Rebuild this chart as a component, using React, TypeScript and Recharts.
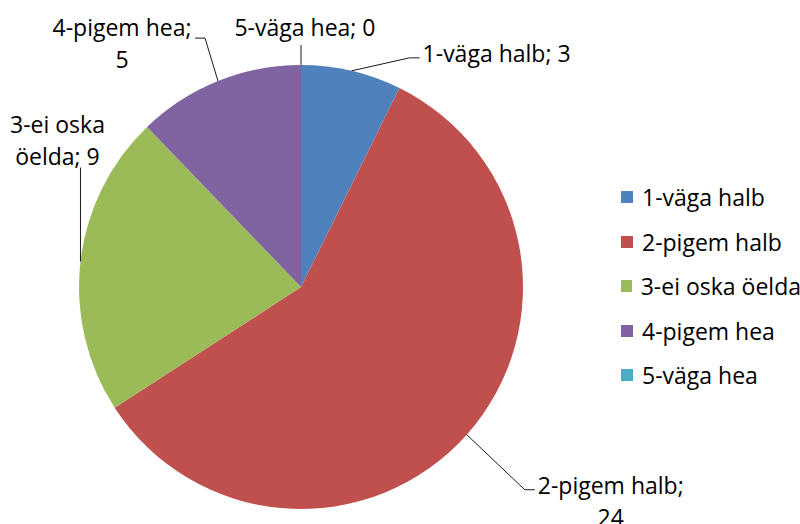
import { Cell, Legend, Pie, PieChart } from "recharts"

const categories = ["1-väga halb", "2-pigem halb", "3-ei oska öelda", "4-pigem hea", "5-väga hea"]
const counts = [3, 24, 9, 5, 0]
const colors = ["#4F81BD", "#C0504D", "#9BBB59", "#8064A2", "#4BACC6"]

// label text split into lines, as drawn in the picture
const labelLines = [
  ["1-väga halb; 3"],
  ["2-pigem halb;", "24"],
  ["3-ei oska", "öelda; 9"],
  ["4-pigem hea;", "5"],
  ["5-väga hea; 0"],
]

// leader line bends and text offsets, relative to the point on the pie edge
const labelLayout = [
  { path: [[58, -13], [68, -13]], text: [71, -18], anchor: "start" },
  { path: [[58, 55], [68, 55]], text: [144, 50], anchor: "middle" },
  { path: [[0, -94]], text: [-23, -138], anchor: "middle" },
  { path: [[-13, -43], [-23, -43]], text: [-96, -54], anchor: "middle" },
  { path: [[0, -20]], text: [4, -38], anchor: "middle" },
]

const data = categories.map((name, i) => ({ name, value: counts[i] }))

const FONT = "'Open Sans', sans-serif"
const RAD = Math.PI / 180

const renderLabel = (props: any) => {
  const { cx, cy, midAngle, outerRadius, index } = props
  const x0 = cx + Math.cos(-midAngle * RAD) * outerRadius
  const y0 = cy + Math.sin(-midAngle * RAD) * outerRadius
  const lay = labelLayout[index]
  const pts = [[x0, y0], ...lay.path.map(([dx, dy]) => [x0 + dx, y0 + dy])]
  const lines = labelLines[index]
  return (
    <g key={`lbl-${index}`}>
      <polyline points={pts.map((p) => p.join(",")).join(" ")} fill="none" stroke="#1a1a1a" strokeWidth={1} />
      {lines.map((t, j) => (
        <text
          key={j}
          x={x0 + lay.text[0]}
          y={y0 + lay.text[1] + j * 32}
          textAnchor={lay.anchor as any}
          dominantBaseline="central"
          fontFamily={FONT}
          fontSize={23}
          fill="#000"
        >
          {t}
        </text>
      ))}
    </g>
  )
}

const renderLegend = () => (
  <div style={{ fontFamily: FONT, fontSize: 23, color: "#000" }}>
    {categories.map((c, i) => (
      <div key={c} style={{ display: "flex", alignItems: "center", height: 44.5 }}>
        <span style={{ width: 12, height: 12, background: colors[i], marginRight: 9, display: "inline-block" }} />
        <span style={{ whiteSpace: "nowrap" }}>{c}</span>
      </div>
    ))}
  </div>
)

const App = () => {
  return (
    <div style={{ position: "absolute", left: 0, top: 0, background: "#fff" }}>
      <PieChart width={800} height={524} margin={{ top: 0, right: 0, bottom: 0, left: 0 }}>
        <Pie
          data={data}
          dataKey="value"
          nameKey="name"
          cx={301}
          cy={287}
          outerRadius={222}
          startAngle={90}
          endAngle={-270}
          stroke="none"
          label={renderLabel}
          labelLine={false}
          isAnimationActive={false}
        >
          {data.map((d, i) => (
            <Cell key={d.name} fill={colors[i]} />
          ))}
        </Pie>
        <Legend content={renderLegend} wrapperStyle={{ left: 621, top: 175, width: 180 }} />
      </PieChart>
    </div>
  )
}

export default App
